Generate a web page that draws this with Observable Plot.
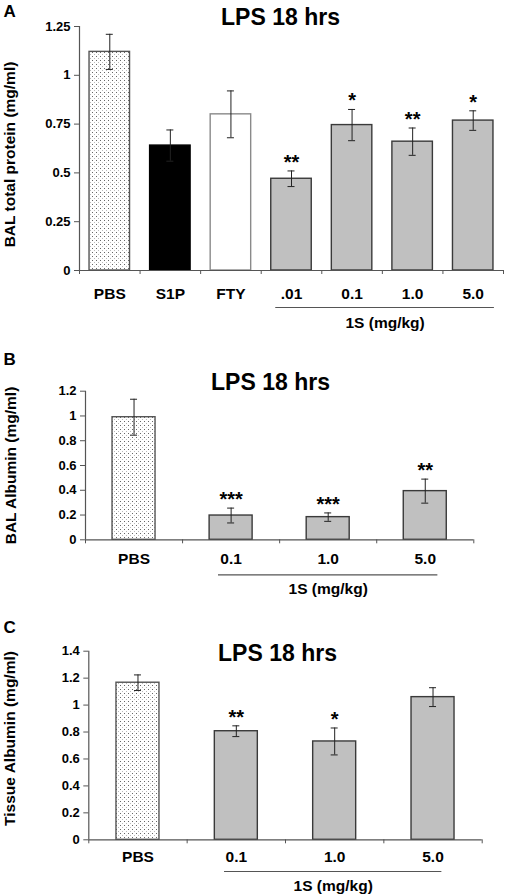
<!DOCTYPE html>
<html><head><meta charset="utf-8">
<script src="https://cdn.jsdelivr.net/npm/d3@7"></script>
<script src="https://cdn.jsdelivr.net/npm/@observablehq/plot@0.6"></script>
<style>
body{margin:0;background:#fff;}
#wrap{position:relative;width:506px;height:894px;overflow:hidden;}
#wrap svg{position:absolute;left:0;}
</style></head><body><div id="wrap"></div>
<script>
// ---------- Panel A: BAL total protein ----------
const catsA = ["PBS", "S1P", "FTY", ".01", "0.1", "1.0", "5.0"];
const valsA = [1.12, 0.64, 0.80, 0.47, 0.745, 0.66, 0.768];
const errsA = [0.09, 0.08, 0.12, 0.04, 0.08, 0.07, 0.05];
const starsA = ["", "", "", "**", "*", "**", "*"];
const kindsA = ["dots", "black", "white", "gray", "gray", "gray", "gray"];
const ticksA = [0, 0.25, 0.5, 0.75, 1, 1.25];

// ---------- Panel B: BAL Albumin ----------
const catsB = ["PBS", "0.1", "1.0", "5.0"];
const valsB = [0.99, 0.196, 0.183, 0.393];
const errsB = [0.145, 0.06, 0.034, 0.097];
const starsB = ["", "***", "***", "**"];
const kindsB = ["dots", "gray", "gray", "gray"];
const ticksB = [0, 0.2, 0.4, 0.6, 0.8, 1, 1.2];

// ---------- Panel C: Tissue Albumin ----------
const catsC = ["PBS", "0.1", "1.0", "5.0"];
const valsC = [1.166, 0.806, 0.73, 1.059];
const errsC = [0.058, 0.04, 0.1, 0.07];
const starsC = ["", "**", "*", ""];
const kindsC = ["dots", "gray", "gray", "gray"];
const ticksC = [0, 0.2, 0.4, 0.6, 0.8, 1, 1.2, 1.4];

const title = "LPS 18 hrs";
const groupLabel = "1S (mg/kg)";
const FONT = "'Liberation Sans', Arial, Helvetica, sans-serif";
const AXIS = "#555";

function panel(cfg) {
  const {id, letter, cats, vals, errs, stars, kinds, ticks, yMax, ylabel,
         top, height, ml, mr, mt, mb, barW, titleXY, letterXY, ylabelXY,
         bracket, bracketDy, groupDy, xPad} = cfg;
  const n = cats.length;
  const step = (506 - ml - mr) / n;
  const inset = (step - barW) / 2;
  const capHalf = 3.5 / step;
  const rows = cats.map((c, i) => ({c, i, v: vals[i], e: errs[i], s: stars[i], k: kinds[i]}));
  const at = (px, py) => ({frameAnchor: "top-left", dx: px - ml, dy: py - top - mt});
  const fillOf = k => k === "dots" ? `url(#dots${id})` : k === "black" ? "#000" : k === "white" ? "#fff" : "#c0c0c0";
  const strokeOf = k => k === "black" ? "#000" : k === "white" ? "#8a8a8a" : k === "dots" ? "#555" : "#3a3a3a";
  const txt = {fontFamily: FONT, fontWeight: "bold", fill: "#000"};

  const svg = Plot.plot({
    width: 506, height,
    marginLeft: ml, marginRight: mr, marginTop: mt, marginBottom: mb,
    style: {fontFamily: FONT, overflow: "visible", background: "transparent"},
    x: {domain: [0, n], axis: null},
    y: {domain: [0, yMax], axis: null},
    marks: [
      Plot.rectY(rows, {x1: d => d.i, x2: d => d.i + 1, y1: 0, y2: "v",
        insetLeft: inset, insetRight: inset,
        fill: d => fillOf(d.k), stroke: d => strokeOf(d.k), strokeWidth: 1.4}),
      Plot.ruleX(rows, {x: d => d.i + 0.5, y1: d => d.v - d.e, y2: d => d.v + d.e, stroke: "#222", strokeWidth: 1}),
      Plot.ruleY(rows, {y: d => d.v + d.e, x1: d => d.i + 0.5 - capHalf, x2: d => d.i + 0.5 + capHalf, stroke: "#222", strokeWidth: 1}),
      Plot.ruleY(rows, {y: d => d.v - d.e, x1: d => d.i + 0.5 - capHalf, x2: d => d.i + 0.5 + capHalf, stroke: "#222", strokeWidth: 1}),
      Plot.ruleX([0], {stroke: AXIS, strokeWidth: 1.2}),
      Plot.ruleY([0], {stroke: AXIS, strokeWidth: 1.2}),
      Plot.axisY({ticks, tickFormat: d => String(d), tickSize: 5, tickPadding: 4,
        stroke: AXIS, fill: "#000", fontSize: 13, fontWeight: "bold", label: null}),
      Plot.axisX({ticks: d3.range(n + 1), tickFormat: () => "", tickSize: 4,
        stroke: AXIS, label: null}),
      Plot.axisX({ticks: rows.map(d => d.i + 0.5), tickFormat: t => cats[Math.floor(t)],
        tickSize: 0, tickPadding: xPad, fill: "#000", fontSize: 15.5, fontWeight: "bold", label: null}),
      Plot.text(rows.filter(d => d.s), {x: d => d.i + 0.5, y: d => d.v + d.e, text: "s",
        lineAnchor: "bottom", dy: -2, fontSize: 20, ...txt}),
      Plot.ruleY([0], {x1: bracket[0], x2: bracket[1], dy: bracketDy, stroke: AXIS, strokeWidth: 1.2}),
      Plot.text([groupLabel], {x: (bracket[0] + bracket[1]) / 2, y: 0, dy: groupDy,
        text: d => d, lineAnchor: "middle", fontSize: 15.5, ...txt}),
      Plot.text([title], {...at(titleXY[0], titleXY[1]), text: d => d,
        textAnchor: "middle", lineAnchor: "middle", fontSize: 23, ...txt}),
      Plot.text([letter], {...at(letterXY[0], letterXY[1]), text: d => d,
        textAnchor: "start", lineAnchor: "middle", fontSize: 17, ...txt}),
      Plot.text([ylabel], {...at(ylabelXY[0], ylabelXY[1]), text: d => d, rotate: -90,
        textAnchor: "middle", lineAnchor: "middle", fontSize: 15.5, ...txt})
    ]
  });
  svg.style.top = top + "px";
  const ns = "http://www.w3.org/2000/svg";
  const defs = document.createElementNS(ns, "defs");
  defs.innerHTML = `<pattern id="dots${id}" width="4" height="4" patternUnits="userSpaceOnUse">
      <rect width="4" height="4" fill="#fff"/>
      <rect x="0" y="0" width="1" height="1" fill="#666"/>
      <rect x="2" y="2" width="1" height="1" fill="#bbb"/>
    </pattern>`;
  svg.insertBefore(defs, svg.firstChild);
  document.getElementById("wrap").appendChild(svg);
}

panel({id: "A", letter: "A", cats: catsA, vals: valsA, errs: errsA, stars: starsA, kinds: kindsA,
  ticks: ticksA, yMax: 1.25, ylabel: "BAL total protein (mg/ml)",
  top: 0, height: 333, ml: 79, mr: 3, mt: 26, mb: 63, barW: 40.5,
  titleXY: [280, 17], letterXY: [3, 11], ylabelXY: [10, 154],
  bracket: [3.24, 6.85], bracketDy: 37, groupDy: 53, xPad: 17});

panel({id: "B", letter: "B", cats: catsB, vals: valsB, errs: errsB, stars: starsB, kinds: kindsB,
  ticks: ticksB, yMax: 1.2, ylabel: "BAL Albumin (mg/ml)",
  top: 333, height: 272, ml: 85, mr: 32.7, mt: 57.7, mb: 65.7, barW: 43,
  titleXY: [270, 382], letterXY: [3, 359], ylabelXY: [11, 465],
  bracket: [1.37, 3.63], bracketDy: 35, groupDy: 49.7, xPad: 13});

panel({id: "C", letter: "C", cats: catsC, vals: valsC, errs: errsC, stars: starsC, kinds: kindsC,
  ticks: ticksC, yMax: 1.4, ylabel: "Tissue Albumin (mg/ml)",
  top: 605, height: 289, ml: 88.3, mr: 24.3, mt: 45.7, mb: 54.7, barW: 43,
  titleXY: [277, 653], letterXY: [3, 627], ylabelXY: [9.5, 738],
  bracket: [1.38, 3.59], bracketDy: 31.7, groupDy: 46.4, xPad: 11});
</script></body></html>
